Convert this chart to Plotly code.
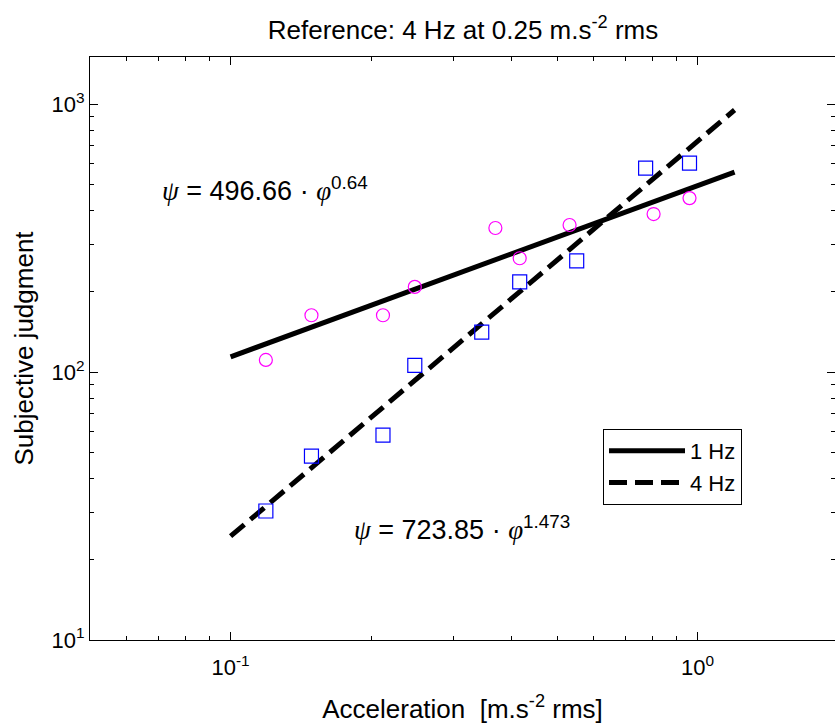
import plotly.graph_objects as go
import math

# data
acc_1hz = [0.119, 0.149, 0.212, 0.248, 0.369, 0.416, 0.532, 0.805, 0.961]
judg_1hz = [111, 163, 163, 208, 345, 266, 354, 389, 446]
acc_4hz = [0.119, 0.149, 0.212, 0.248, 0.345, 0.416, 0.551, 0.774, 0.961]
judg_4hz = [30.3, 48.6, 58.2, 106, 141, 217, 260, 577, 603]

fit_x = [0.1, 1.2]
fit_1hz = [114, 558]
fit_4hz = [24.4, 951]

x_major = [0.1, 1]
x_major_text = ["10<sup>-1</sup>", "10<sup>0</sup>"]
y_major = [10, 100, 1000]
y_major_text = ["10<sup>1</sup>", "10<sup>2</sup>", "10<sup>3</sup>"]
x_minor = [0.05, 0.06, 0.07, 0.08, 0.09, 0.2, 0.3, 0.4, 0.5, 0.6, 0.7, 0.8, 0.9, 2]
y_minor = [20, 30, 40, 50, 60, 70, 80, 90, 200, 300, 400, 500, 600, 700, 800, 900]

FONT = "Liberation Sans, Arial, sans-serif"

fig = go.Figure()
fig.add_trace(go.Scatter(x=fit_x, y=fit_1hz, mode="lines", name="1 Hz",
                         line=dict(color="black", width=5), legendgroup="a"))
fig.add_trace(go.Scatter(x=fit_x, y=fit_4hz, mode="lines", name="4 Hz",
                         line=dict(color="black", width=5, dash="18px,8px"), legendgroup="b"))
fig.add_trace(go.Scatter(x=acc_1hz, y=judg_1hz, mode="markers", showlegend=False,
                         marker=dict(symbol="circle-open", size=13, color="#ff00ff",
                                     line=dict(width=1.2, color="#ff00ff"))))
fig.add_trace(go.Scatter(x=acc_4hz, y=judg_4hz, mode="markers", showlegend=False,
                         marker=dict(symbol="square-open", size=14, color="#0000ff",
                                     line=dict(width=1.2, color="#0000ff"))))

eq_style = "font-family:'Liberation Serif',serif;font-style:italic"
fig.add_annotation(x=-1.152, y=math.log10(482), xref="x", yref="y", showarrow=False,
                   xanchor="left", yanchor="middle",
                   text=f"<span style=\"{eq_style}\">ψ</span> = 496.66 · "
                        f"<span style=\"{eq_style}\">φ</span><sup>0.64</sup>",
                   font=dict(family=FONT, size=27, color="black"))
fig.add_annotation(x=-0.739, y=math.log10(26.2), xref="x", yref="y", showarrow=False,
                   xanchor="left", yanchor="middle",
                   text=f"<span style=\"{eq_style}\">ψ</span> = 723.85 · "
                        f"<span style=\"{eq_style}\">φ</span><sup>1.473</sup>",
                   font=dict(family=FONT, size=27, color="black"))

axis_common = dict(type="log", showgrid=False, zeroline=False, showline=True,
                   linecolor="black", linewidth=1, mirror="allticks",
                   ticks="inside", ticklen=8, tickcolor="black", tickwidth=1,
                   tickfont=dict(family=FONT, size=22, color="black"))

fig.update_xaxes(**axis_common, range=[math.log10(0.05), math.log10(0.05) + 745 / 467],
                 tickmode="array", tickvals=x_major, ticktext=x_major_text,
                 minor=dict(tickmode="array", tickvals=x_minor, ticks="inside", ticklen=4,
                            tickcolor="black", showgrid=False),
                 ticklabelstandoff=8,
                 title=dict(text="Acceleration  [m.s<sup>-2</sup> rms]",
                            font=dict(family=FONT, size=26, color="black"), standoff=20))
fig.update_yaxes(**axis_common, range=[1, math.log10(1500)],
                 tickmode="array", tickvals=y_major, ticktext=y_major_text,
                 minor=dict(tickmode="array", tickvals=y_minor, ticks="inside", ticklen=4,
                            tickcolor="black", showgrid=False),
                 title=dict(text="Subjective judgment",
                            font=dict(family=FONT, size=26, color="black"), standoff=10))

fig.update_layout(
    width=835, height=724,
    margin=dict(l=90, r=0, t=57, b=84),
    paper_bgcolor="white", plot_bgcolor="white",
    title=dict(text="Reference: 4 Hz at 0.25 m.s<sup>-2</sup> rms", x=463 / 835, xref="container",
               xanchor="center", y=1 - 30 / 724, yanchor="middle",
               font=dict(family=FONT, size=26, color="black")),
    legend=dict(x=(603 - 90) / 745, y=(640 - 429) / 583, xanchor="left", yanchor="top",
                bordercolor="black", borderwidth=1, bgcolor="white",
                font=dict(family=FONT, size=22, color="black"),
                itemwidth=76, tracegroupgap=0),
    showlegend=True,
)

fig.write_html("out.html")
